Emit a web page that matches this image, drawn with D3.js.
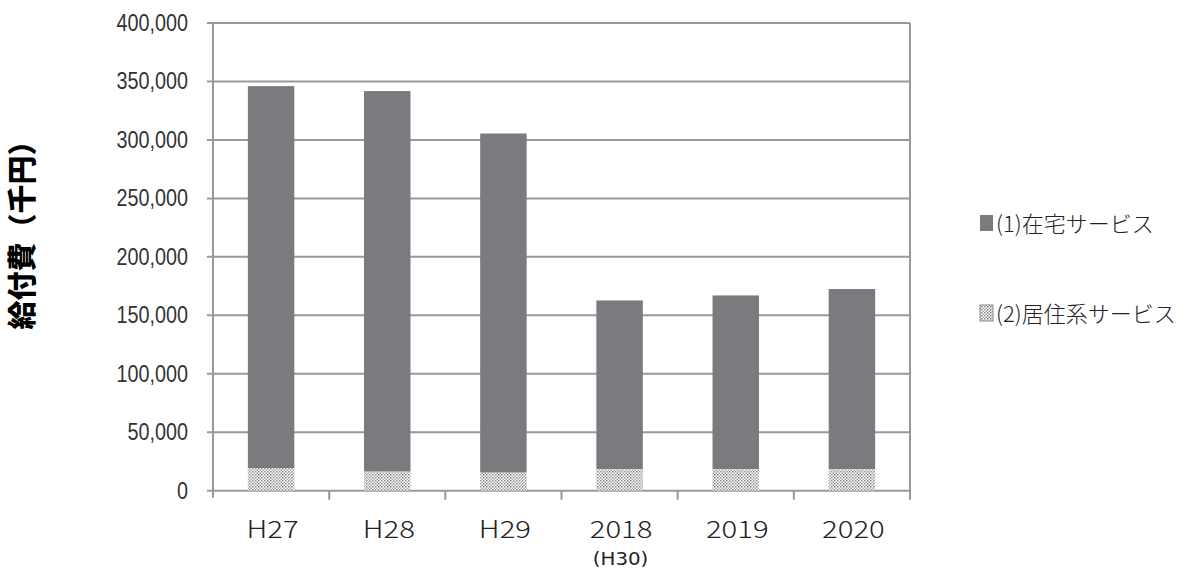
<!DOCTYPE html>
<html><head><meta charset="utf-8">
<script src="https://cdn.jsdelivr.net/npm/d3@7"></script>
<style>body{margin:0;background:#fff}svg{display:block}</style>
</head><body>
<script>
const categories = ["H27","H28","H29","2018","2019","2020"];
const subLabels = ["","","","(H30)","",""];
const homeService = [326800, 325500, 290100, 144400, 148700, 154200];
const residentialService = [19200, 16300, 15400, 18300, 18300, 18300];
const yTicks = [0,50000,100000,150000,200000,250000,300000,350000,400000];
const seriesNames = ["(1)在宅サービス","(2)居住系サービス"];
const yTitle = "給付費（千円）";

(function(){
const W=1187,H=570;
const svg=d3.select("body").append("svg").attr("width",W).attr("height",H);
const defs=svg.append("defs");
const pat=defs.append("pattern").attr("id","dots").attr("patternUnits","userSpaceOnUse").attr("width",3).attr("height",3);
pat.append("rect").attr("width",3).attr("height",3).attr("fill","#fff");
pat.append("rect").attr("x",0).attr("y",0).attr("width",1.5).attr("height",1.5).attr("fill","#888");
pat.append("rect").attr("x",1.5).attr("y",1.5).attr("width",1.5).attr("height",1.5).attr("fill","#aaa");

const pl=213,pr=910,pt=23,pb=490.7;
const x=d3.scaleBand().domain(categories).range([pl,pr]).paddingInner(0.6).paddingOuter(0.3);
const xb=d3.scaleBand().domain(categories).range([pl,pr]);
const y=d3.scaleLinear().domain([0,400000]).range([pb,pt]);
const grid="#999";

svg.append("g").selectAll("line").data(yTicks).join("line")
  .attr("x1",pl-6).attr("x2",pr).attr("y1",d=>y(d)).attr("y2",d=>y(d))
  .attr("stroke",grid).attr("stroke-width",2);
svg.append("line").attr("x1",pl).attr("x2",pl).attr("y1",pt).attr("y2",pb+7).attr("stroke",grid).attr("stroke-width",2);
svg.append("line").attr("x1",pr).attr("x2",pr).attr("y1",pt).attr("y2",pb+7).attr("stroke",grid).attr("stroke-width",2);
svg.append("g").selectAll("line").data(categories).join("line")
  .attr("x1",d=>xb(d)+xb.bandwidth()).attr("x2",d=>xb(d)+xb.bandwidth())
  .attr("y1",pb).attr("y2",pb+9).attr("stroke",grid).attr("stroke-width",2);

svg.append("g").selectAll("text").data(yTicks).join("text")
  .attr("transform",d=>`translate(188,${y(d)+8}) scale(0.86,1)`).attr("text-anchor","end")
  .attr("font-family","'Liberation Sans Narrow','Arial Narrow','Liberation Sans',sans-serif").attr("font-size",23)
  .attr("fill","#333").text(d=>d3.format(",")(d));

const stack=categories.map((c,i)=>({c,r:residentialService[i],h:homeService[i]}));
svg.append("g").selectAll("rect").data(stack).join("rect")
  .attr("x",d=>x(d.c)).attr("width",x.bandwidth())
  .attr("y",d=>y(d.r+d.h)).attr("height",d=>y(d.r)-y(d.r+d.h)).attr("fill","#7a7b7f");
svg.append("g").selectAll("rect").data(stack).join("rect")
  .attr("x",d=>x(d.c)).attr("width",x.bandwidth())
  .attr("y",d=>y(d.r)).attr("height",d=>y(0)-y(d.r)).attr("fill","url(#dots)");

const xl=svg.append("g").attr("font-family","'Noto Sans CJK JP','DejaVu Sans',sans-serif").attr("font-weight",300).attr("fill","#222");
xl.selectAll("text.m").data(categories).join("text").attr("class","m")
  .attr("transform",d=>`translate(${x(d)+x.bandwidth()/2+1.5},538) scale(1.22,1)`).attr("text-anchor","middle").attr("font-size",24)
  .text(d=>d);
xl.selectAll("text.s").data(categories.map((c,i)=>({c,s:subLabels[i]})).filter(d=>d.s)).join("text").attr("class","s")
  .attr("transform",d=>`translate(${x(d.c)+x.bandwidth()/2+1},565) scale(1.1,1)`).attr("text-anchor","middle")
  .attr("font-family","'DejaVu Sans',sans-serif").attr("font-weight",400).attr("font-size",18)
  .text(d=>d.s);

svg.append("text").attr("transform","translate(33,228) rotate(-90)").attr("text-anchor","middle")
  .attr("font-family","'Noto Sans CJK JP',sans-serif").attr("font-weight",900).attr("font-size",29)
  .attr("fill","#000").text(yTitle);

const lg=svg.append("g");
const fills=["#7a7b7f","url(#dots)"];
const ly=[223,313];
seriesNames.forEach((n,i)=>{
  lg.append("rect").attr("x",980).attr("y",ly[i]-8).attr("width",13).attr("height",16).attr("fill",fills[i]).attr("stroke",i?"#888":"none");
  lg.append("text").attr("x",996).attr("y",ly[i]+9).attr("font-family","'Noto Sans CJK JP',sans-serif")
    .attr("font-size",22).attr("font-weight",300).attr("fill","#222").text(n);
});
})();
</script>
</body></html>
